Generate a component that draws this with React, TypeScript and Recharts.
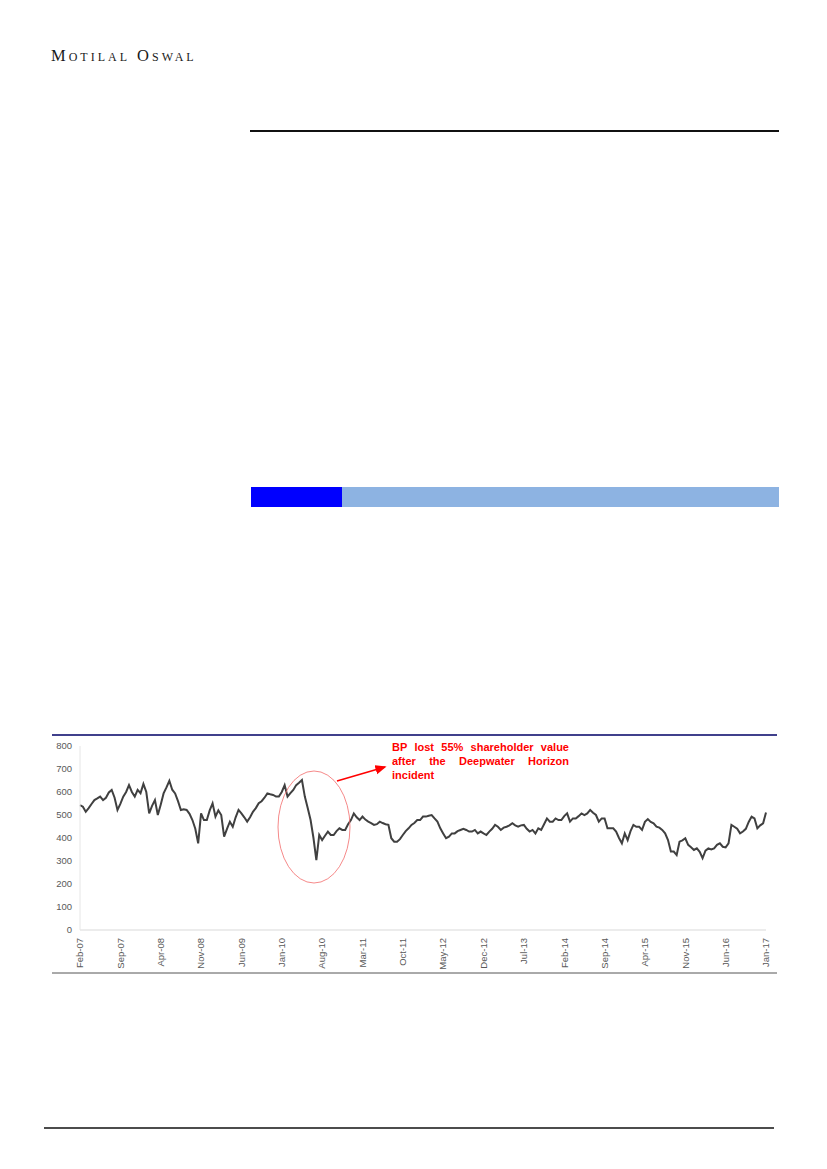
import React from 'react';
import { LineChart, Line, XAxis, YAxis } from 'recharts';

// tick labels, one every 7 months starting Feb-07
const tickLabels = [
  'Feb-07', 'Sep-07', 'Apr-08', 'Nov-08', 'Jun-09', 'Jan-10', 'Aug-10', 'Mar-11', 'Oct-11',
  'May-12', 'Dec-12', 'Jul-13', 'Feb-14', 'Sep-14', 'Apr-15', 'Nov-15', 'Jun-16', 'Jan-17',
];
const yTicks = [0, 100, 200, 300, 400, 500, 600, 700, 800];

// BP share price (pence), two readings per month from Feb-07
const price = [
  543, 536, 514, 530, 548, 565, 572, 580, 565, 575, 598, 609, 575, 522, 548, 580,
  600, 630, 600, 580, 609, 595, 635, 600, 507, 540, 565, 500, 545, 594, 620, 649,
  610, 594, 560, 522, 525, 522, 505, 478, 440, 377, 507, 478, 478, 520, 551, 493,
  520, 500, 406, 440, 471, 449, 490, 522, 507, 490, 471, 490, 514, 530, 551, 560,
  575, 594, 590, 587, 580, 580, 600, 630, 580, 595, 609, 630, 640, 652, 580, 530,
  478, 400, 304, 413, 391, 410, 428, 413, 413, 430, 442, 435, 435, 460, 478, 507,
  490, 478, 493, 480, 471, 465, 457, 460, 471, 465, 460, 457, 399, 384, 384, 395,
  413, 430, 442, 457, 465, 478, 478, 493, 493, 497, 500, 485, 471, 442, 420, 399,
  406, 420, 420, 430, 435, 440, 435, 428, 428, 435, 420, 428, 420, 413, 428, 440,
  457, 449, 435, 445, 449, 455, 464, 455, 449, 455, 457, 440, 428, 435, 420, 442,
  435, 460, 485, 471, 471, 485, 478, 478, 495, 507, 471, 485, 485, 495, 507, 500,
  507, 522, 510, 500, 471, 485, 485, 442, 442, 442, 428, 400, 377, 420, 391, 430,
  457, 449, 449, 435, 470, 482, 470, 464, 449, 445, 435, 420, 391, 341, 341, 326,
  384, 390, 399, 370, 360, 348, 355, 340, 312, 345, 355, 350, 355, 370, 377, 362,
  359, 377, 457, 449, 440, 420, 428, 440, 470, 493, 485, 442, 455, 464, 511,
];

const data = price.map((p, i) => ({ t: i / 2, price: p }));
const tickMonths = tickLabels.map((_, i) => i * 7);

const font = '"Liberation Sans", Arial, sans-serif';

const RotatedTick = (props: any) => {
  const { x, y, payload } = props;
  const label = tickLabels[Math.round(payload.value / 7)];
  return (
    <text
      x={x}
      y={y}
      transform={`rotate(-90, ${x}, ${y})`}
      textAnchor="end"
      dy="0.35em"
      fill="#595959"
      fontSize={9.5}
      fontFamily={font}
    >
      {label}
    </text>
  );
};

export default function App() {
  return (
    <div style={{ position: 'absolute', left: 0, top: 0, width: 827, height: 1169, background: '#fff' }}>
      {/* page decorations */}
      <svg width={827} height={1169} style={{ position: 'absolute', left: 0, top: 0 }}>
        <text
          x={51}
          y={61}
          fontFamily='"Liberation Serif", "DejaVu Serif", serif'
          fontSize={16.5}
          letterSpacing={3}
          style={{ fontVariant: 'small-caps' }}
          fill="#1a1a1a"
        >
          Motilal Oswal
        </text>
        <line x1={250} y1={131} x2={779} y2={131} stroke="#111" strokeWidth={2} />
        <rect x={251} y={487} width={91} height={20} fill="#0000ff" />
        <rect x={342} y={487} width={437} height={20} fill="#8db3e2" />
        <line x1={52} y1={735} x2={777} y2={735} stroke="#000066" strokeWidth={1.4} />
        <line x1={52} y1={973} x2={777} y2={973} stroke="#555" strokeWidth={1} />
        <line x1={44} y1={1128} x2={774} y2={1128} stroke="#111" strokeWidth={1.5} />
      </svg>

      <div style={{ position: 'absolute', left: 30, top: 736 }}>
        <LineChart width={760} height={240} data={data} margin={{ top: 10, right: 24, bottom: 6, left: 20 }}>
          <XAxis
            type="number"
            dataKey="t"
            domain={[0, 119]}
            ticks={tickMonths}
            interval={0}
            height={40}
            axisLine={{ stroke: '#d9d9d9' }}
            tickLine={false}
            tick={<RotatedTick />}
          />
          <YAxis
            domain={[0, 800]}
            ticks={yTicks}
            width={30}
            axisLine={{ stroke: '#e6e6e6' }}
            tickLine={false}
            tick={{ fill: '#595959', fontSize: 9.5, fontFamily: font }}
          />
          <Line
            type="linear"
            dataKey="price"
            stroke="#404040"
            strokeWidth={2}
            dot={false}
            isAnimationActive={false}
          />
        </LineChart>
      </div>

      {/* annotation */}
      <svg width={827} height={1169} style={{ position: 'absolute', left: 0, top: 0, pointerEvents: 'none' }}>
        <defs>
          <marker id="arr" markerWidth="8" markerHeight="8" refX="6" refY="3" orient="auto">
            <path d="M0,0 L7,3 L0,6 Z" fill="#ff0000" />
          </marker>
        </defs>
        <ellipse cx={314} cy={827} rx={36} ry={56} fill="none" stroke="#f26b6b" strokeWidth={0.8} />
        <line x1={337} y1={781} x2={385} y2={767} stroke="#ff0000" strokeWidth={1.6} markerEnd="url(#arr)" />
      </svg>
      <div
        style={{
          position: 'absolute',
          left: 392,
          top: 740,
          width: 177,
          fontFamily: font,
          fontWeight: 'bold',
          fontSize: 11,
          lineHeight: '14px',
          color: '#ff0000',
          textAlign: 'justify',
        }}
      >
        BP lost 55% shareholder value after the Deepwater Horizon incident
      </div>
    </div>
  );
}
